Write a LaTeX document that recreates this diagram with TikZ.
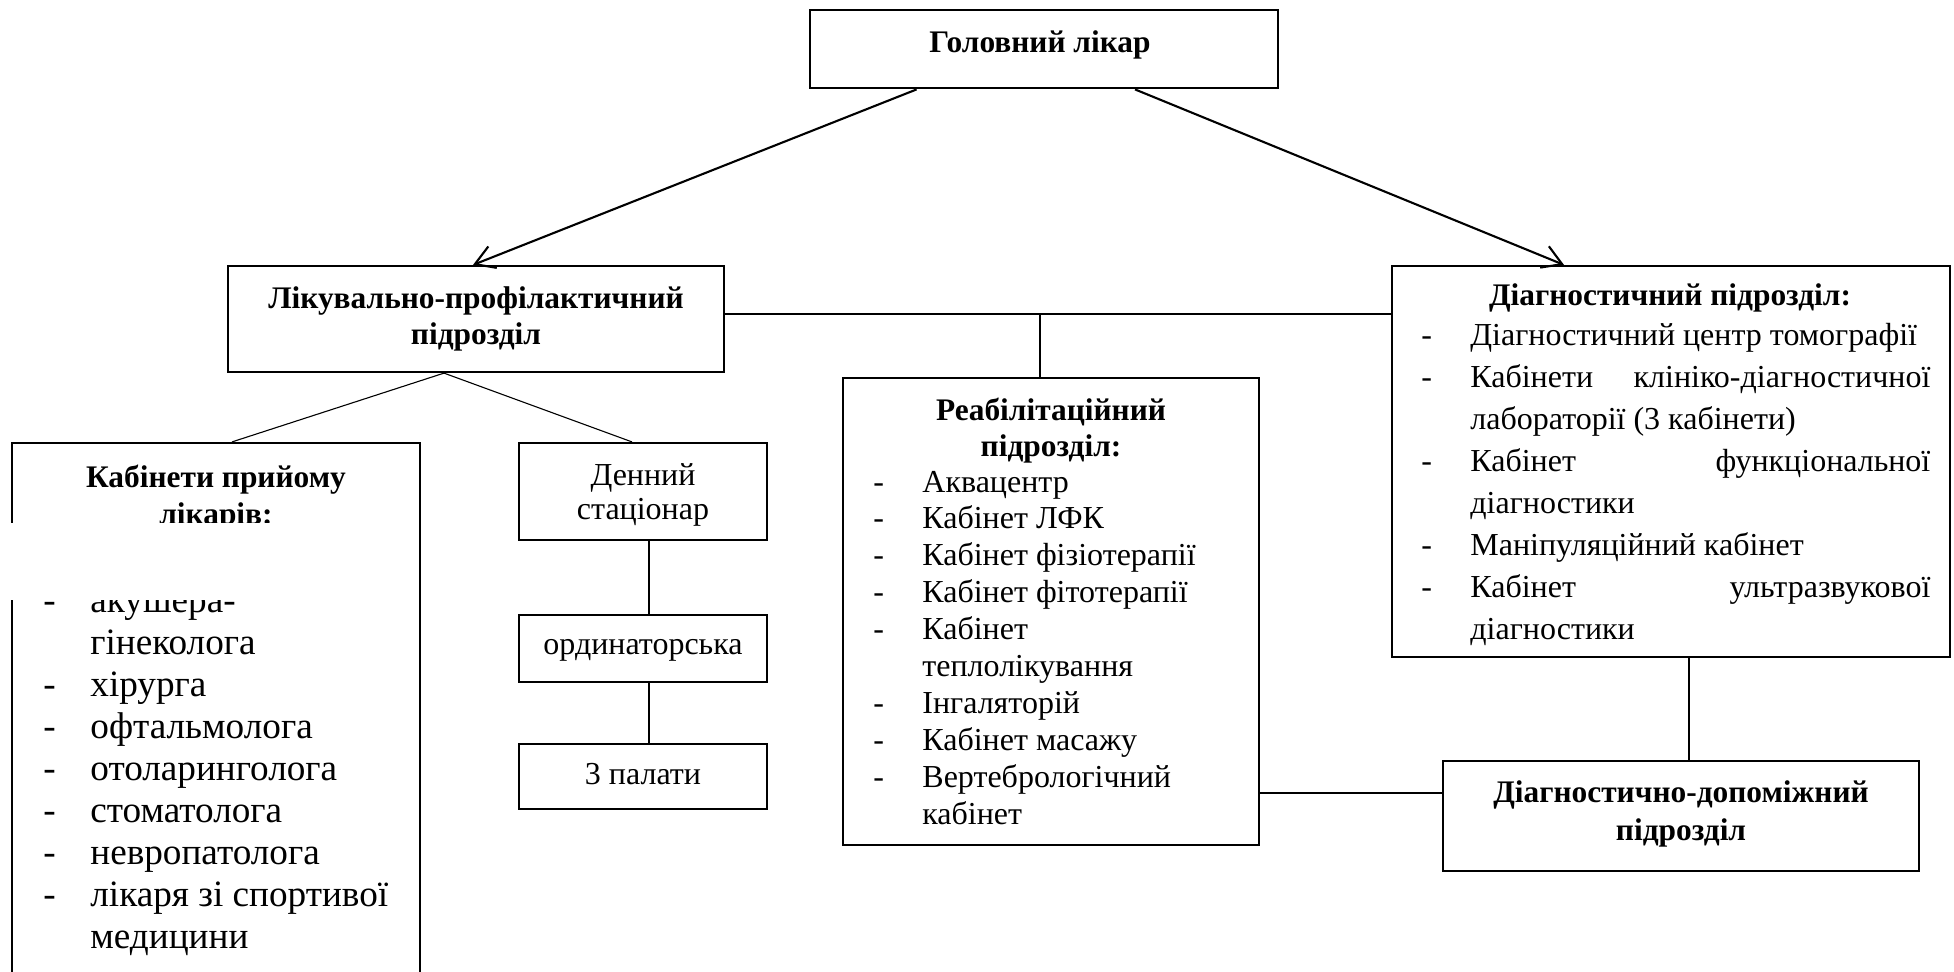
\documentclass[tikz,border=0pt]{standalone}
\usepackage{fontspec}
\setmainfont{Liberation Serif}
\usetikzlibrary{arrows.meta}
\begin{document}
\begin{tikzpicture}[x=0.5pt,y=-0.5pt,
  box/.style={draw, line width=1.1pt, inner sep=0pt, rectangle},
  ttl/.style={font=\fontsize{15.7}{18}\selectfont\bfseries, anchor=base, inner sep=0pt},
  bodytxt/.style={font=\fontsize{16}{18}\selectfont, anchor=base west, inner sep=0pt},
  bigtxt/.style={font=\fontsize{18.6}{20}\selectfont, anchor=base west, inner sep=0pt},
  ctxt/.style={font=\fontsize{16}{18}\selectfont, anchor=base, inner sep=0pt},
  thin/.style={line width=0.55pt},
  thick/.style={line width=1.05pt},
  arr/.style={line width=1.05pt, -{Straight Barb[length=9.5pt,width=11.5pt,line width=1.05pt]}}
]
\useasboundingbox (0,0) rectangle (1954,971);
\fill[white] (0,0) rectangle (1954,971);
\clip (0,0) rectangle (1954,971);

% boxes
\node[box, line width=1.4pt, minimum width=234pt, minimum height=39pt] (head) at (1044,49) {};
\node[box, minimum width=248pt, minimum height=53pt] (lik) at (476,319) {};
\node[box, minimum width=279pt, minimum height=195.5pt] (diag) at (1671,461.5) {};
\node[box, minimum width=208pt, minimum height=233.5pt] (reab) at (1051,611.5) {};
\node[box, minimum width=238pt, minimum height=55pt] (dd) at (1681,816) {};
\node[box, minimum width=204pt, minimum height=283pt] (kab) at (216,726) {};
\node[box, minimum width=124pt, minimum height=48.5pt] (den) at (643,491.5) {};
\node[box, minimum width=124pt, minimum height=33.5pt] (ord) at (643,648.5) {};
\node[box, minimum width=124pt, minimum height=32.5pt] (pal) at (643,776.5) {};

% titles
\node[ttl] (headt) at (1040,52) {Головний лікар};
\node[ttl] (likt1) at (476,308) {Лікувально-профілактичний};
\node[ttl] (likt2) at (476,344) {підрозділ};
\node[ttl] (ddt1) at (1681,802) {Діагностично-допоміжний};
\node[ttl] (ddt2) at (1681,840) {підрозділ};
\node[ttl] (kabt1) at (216,487) {Кабінети прийому};
\node[ttl] (kabt2) at (216,524) {лікарів:};
\node[ttl] (reabt1) at (1051,420) {Реабілітаційний};
\node[ttl] (reabt2) at (1051,456) {підрозділ:};
\node[ttl] (diagt) at (1670,305) {Діагностичний підрозділ:};

\node[ctxt] (dent1) at (643,485) {Денний};
\node[ctxt] (dent2) at (643,519) {стаціонар};
\node[ctxt] (ordt) at (643,654) {ординаторська};
\node[ctxt] (palt) at (643,784) {3 палати};

% rehabilitation list
\foreach \t [count=\i] in {{Аквацентр},{Кабінет ЛФК},{Кабінет фізіотерапії},{Кабінет фітотерапії},{Кабінет},{теплолікування},{Інгаляторій},{Кабінет масажу},{Вертебрологічний},{кабінет}}
  \node[bodytxt] (rl\i) at (922,{492+36.9*(\i-1)}) {\t};
\foreach \i in {1,2,3,4,5,7,8,9}
  \node[bodytxt] (rd\i) at (873,{492+36.9*(\i-1)}) {-};

% diagnostic list
\foreach \t [count=\i] in {{Діагностичний центр томографії},{\makebox[230pt][l]{Кабінети\hfill клініко-діагностичної}},{лабораторії (3 кабінети)},{\makebox[230pt][l]{Кабінет\hfill функціональної}},{діагностики},{Маніпуляційний кабінет},{\makebox[230pt][l]{Кабінет\hfill ультразвукової}},{діагностики}}
  \node[bodytxt] (dl\i) at (1470,{345+42.1*(\i-1)}) {\t};
\foreach \i in {1,2,4,6,7}
  \node[bodytxt] (dd\i) at (1421,{345+42.1*(\i-1)}) {-};

% doctors list
\foreach \t [count=\i] in {{акушера-},{гінеколога},{хірурга},{офтальмолога},{отоларинголога},{стоматолога},{невропатолога},{лікаря зі спортивої},{медицини}}
  \node[bigtxt] (kl\i) at (90,{612+42*(\i-1)}) {\t};
\foreach \i in {1,3,4,5,6,7,8}
  \node[bigtxt] (kd\i) at (43,{612+42*(\i-1)}) {-};

% white band over the doctors box
\fill[white] (0,523) rectangle (417,600);

% connectors
\coordinate (lkE) at ([yshift=2.5pt]lik.east);
\coordinate (rbN) at ([xshift=-5.5pt]reab.north);
\coordinate (lkS) at ([xshift=-16pt]lik.south);
\coordinate (dnS) at ([xshift=3pt]den.south);
\coordinate (dgS) at ([xshift=9pt]diag.south);
\coordinate (rbE) at ([yshift=-90.75pt]reab.east);

\draw[arr] ([xshift=54pt]head.south west) -- ([xshift=-1.5pt]lik.north);
\draw[arr] ([xshift=45.5pt]head.south) -- ([xshift=-53.5pt]diag.north);
\draw[thin] (lkE) -- (lkE -| diag.west);
\draw[thin] (rbN) -- (rbN |- lkE);
\draw[thin] (lkS) -- ([xshift=8pt]kab.north);
\draw[thin] (lkS) -- ([xshift=-5.5pt]den.north);
\draw[thin] (dnS) -- (dnS |- ord.north);
\draw[thin] (dnS |- ord.south) -- (dnS |- pal.north);
\draw[thick] (dgS) -- (dgS |- dd.north);
\draw[thick] (rbE) -- (rbE -| dd.west);
\end{tikzpicture}
\end{document}
